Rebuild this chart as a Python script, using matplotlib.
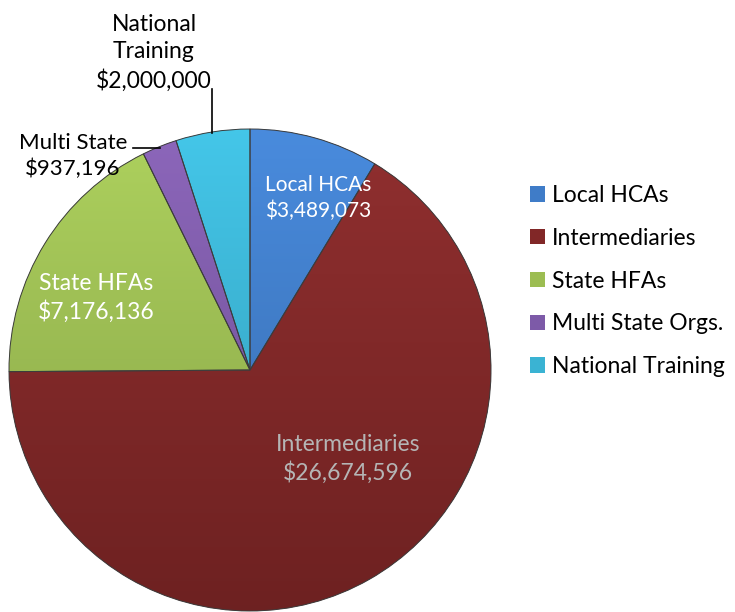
import numpy as np
import matplotlib
matplotlib.use("Agg")
import matplotlib.pyplot as plt
from matplotlib.colors import to_rgb
from matplotlib.patches import PathPatch

plt.rcParams['font.family'] = ['Lato', 'DejaVu Sans']

# data
categories = ["Local HCAs", "Intermediaries", "State HFAs", "Multi State Orgs.", "National Training"]
amounts = [3489073, 26674596, 7176136, 937196, 2000000]
colors = ["#3f7cc8", "#812727", "#9cbd52", "#7d5aa8", "#3ab3d3"]

W, H = 735, 612
fig = plt.figure(figsize=(W / 100, H / 100), dpi=100)
ax = fig.add_axes([0, 0, 1, 1])

cx, cy, r = 250, H - 370, 241
wedges, _ = ax.pie(amounts, colors=colors, startangle=90, counterclock=False,
                   center=(cx, cy), radius=r, frame=True,
                   wedgeprops=dict(edgecolor='none', linewidth=0))

# vertical gradient in each slice, lighter at top
grad = np.linspace(0, 1, 256).reshape(-1, 1)
for w, c in zip(wedges, colors):
    base = np.array(to_rgb(c))
    light = np.clip(base * 1.08 + 0.02, 0, 1)
    dark = base * 0.85
    img = dark[None, None, :] * (1 - grad[:, :, None]) + light[None, None, :] * grad[:, :, None]
    img = np.repeat(img, 2, axis=1)
    im = ax.imshow(img, extent=(cx - r, cx + r, cy - r, cy + r), origin='lower',
                   aspect='auto', zorder=w.get_zorder() + 0.1, interpolation='bilinear')
    im.set_clip_path(w)
    ol = PathPatch(w.get_path(), transform=w.get_transform(), fill=False,
                   edgecolor='#3c3c3c', linewidth=0.7, zorder=w.get_zorder() + 0.2)
    ax.add_patch(ol)
ax.set_xlim(0, W)
ax.set_ylim(0, H)
ax.set_aspect('equal')
ax.axis('off')

fs = 16.5
ls = 1.35
def money(v):
    return "${:,}".format(v)

ax.text(318, H - 198, categories[0] + "\n" + money(amounts[0]), color='white',
        ha='center', va='center', fontsize=15, linespacing=ls, zorder=10)
ax.text(348, H - 459, categories[1] + "\n" + money(amounts[1]), color='#b5b5b5',
        ha='center', va='center', fontsize=fs, linespacing=ls, zorder=10)
ax.text(96, H - 298, categories[2] + "\n" + money(amounts[2]), color='white',
        ha='center', va='center', fontsize=fs, linespacing=ls, zorder=10)
ax.text(73, H - 156, "Multi State\n" + money(amounts[3]), color='black',
        ha='center', va='center', fontsize=16, linespacing=ls, zorder=10)
ax.text(154, H - 53, "National\nTraining\n" + money(amounts[4]), color='black',
        ha='center', va='center', fontsize=fs, linespacing=ls, zorder=10)

# leader lines
ax.plot([133, 160], [H - 148, H - 148], color='black', lw=1.2, zorder=10)
ax.plot([212, 212], [H - 89, H - 133], color='black', lw=1.2, zorder=10)

leg = ax.legend(wedges, categories, loc='upper left',
                bbox_to_anchor=(530 / W, 1 - 185 / H), frameon=False,
                fontsize=16.5, handlelength=0.65, handleheight=0.65,
                handletextpad=0.3, labelspacing=0.95, borderpad=0,
                borderaxespad=0)

fig.savefig("out.png", dpi=100)
